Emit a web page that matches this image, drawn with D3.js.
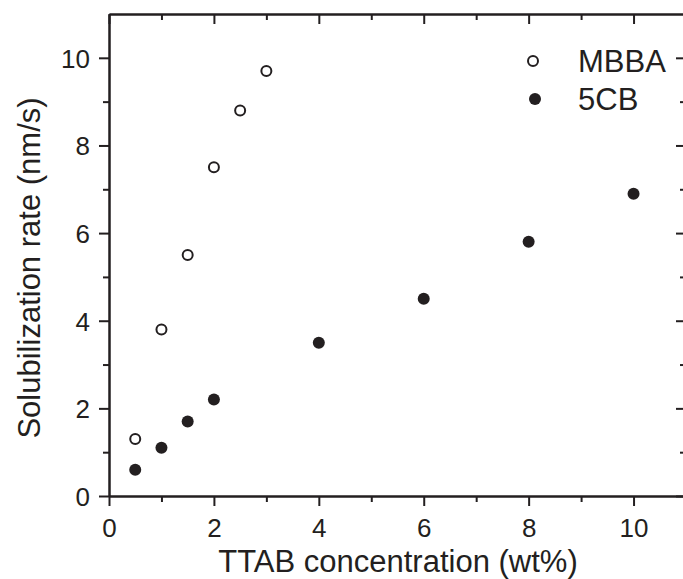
<!DOCTYPE html>
<html><head><meta charset="utf-8">
<script src="https://cdn.jsdelivr.net/npm/d3@7"></script>
<style>body{margin:0;background:#fff}svg{display:block}text{font-family:"Liberation Sans",Arial,sans-serif;fill:#231f20}</style>
</head><body>
<script>
const mbbaX = [0.5, 1, 1.5, 2, 2.5, 3];
const mbbaY = [1.3, 3.8, 5.5, 7.5, 8.8, 9.7];
const cbX = [0.5, 1, 1.5, 2, 4, 6, 8, 10];
const cbY = [0.6, 1.1, 1.7, 2.2, 3.5, 4.5, 5.8, 6.9];
const xMajor = [0, 2, 4, 6, 8, 10];
const yMajor = [0, 2, 4, 6, 8, 10];
const seriesNames = ["MBBA", "5CB"];

const W = 683, H = 579;
const m = {l: 109, t: 14, r: 686, b: 496};
const col = "#231f20";
const svg = d3.select("body").append("svg").attr("width", W).attr("height", H);
const x = d3.scaleLinear().domain([0, 11]).range([m.l, m.r]);
const y = d3.scaleLinear().domain([0, 11]).range([m.b, m.t]);
const xMinor = d3.range(1, 11, 2);
const yMinor = d3.range(1, 11, 2);

function styleAxis(g) {
  g.select(".domain").attr("stroke", col).attr("stroke-width", 2);
  g.selectAll(".tick line").attr("stroke", col).attr("stroke-width", 2);
  g.selectAll(".tick text").attr("font-size", 26).style("fill", col);
}
// bottom
const bx = svg.append("g").attr("transform", `translate(0,${m.b})`)
  .call(d3.axisBottom(x).tickValues(xMajor).tickSize(10).tickSizeOuter(0).tickFormat(d3.format("d")))
  .call(styleAxis);
bx.selectAll(".tick text").attr("y", 41).attr("dy", null);
svg.append("g").attr("transform", `translate(0,${m.b})`)
  .call(d3.axisBottom(x).tickValues(xMinor).tickSize(6).tickSizeOuter(0).tickFormat(""))
  .call(styleAxis);
// top (inward)
svg.append("g").attr("transform", `translate(0,${m.t})`)
  .call(d3.axisBottom(x).tickValues(xMajor).tickSize(10).tickSizeOuter(0).tickFormat(""))
  .call(styleAxis);
svg.append("g").attr("transform", `translate(0,${m.t})`)
  .call(d3.axisBottom(x).tickValues(xMinor).tickSize(6).tickSizeOuter(0).tickFormat(""))
  .call(styleAxis);
// left
const ly = svg.append("g").attr("transform", `translate(${m.l},0)`)
  .call(d3.axisLeft(y).tickValues(yMajor).tickSize(10).tickSizeOuter(0).tickPadding(9).tickFormat(d3.format("d")))
  .call(styleAxis);
ly.selectAll(".tick text").attr("dy", "0.36em");
svg.append("g").attr("transform", `translate(${m.l},0)`)
  .call(d3.axisLeft(y).tickValues(yMinor).tickSize(6).tickSizeOuter(0).tickFormat(""))
  .call(styleAxis);
// right (inward)
svg.append("g").attr("transform", `translate(${m.r},0)`)
  .call(d3.axisLeft(y).tickValues(yMajor).tickSize(10).tickSizeOuter(0).tickFormat(""))
  .call(styleAxis);
svg.append("g").attr("transform", `translate(${m.r},0)`)
  .call(d3.axisLeft(y).tickValues(yMinor).tickSize(6).tickSizeOuter(0).tickFormat(""))
  .call(styleAxis);

// data
const mbba = mbbaX.map((v, i) => [v, mbbaY[i]]);
const cb = cbX.map((v, i) => [v, cbY[i]]);
svg.append("g").selectAll("circle").data(mbba).join("circle")
  .attr("cx", d => x(d[0])).attr("cy", d => y(d[1])).attr("r", 5)
  .attr("fill", "#fff").attr("stroke", col).attr("stroke-width", 2);
svg.append("g").selectAll("circle").data(cb).join("circle")
  .attr("cx", d => x(d[0])).attr("cy", d => y(d[1])).attr("r", 6)
  .attr("fill", col);

// legend
const lg = svg.append("g");
lg.append("circle").attr("cx", 533).attr("cy", 61).attr("r", 5)
  .attr("fill", "#fff").attr("stroke", col).attr("stroke-width", 2);
lg.append("text").attr("x", 578).attr("y", 72).attr("font-size", 31).text(seriesNames[0]);
lg.append("circle").attr("cx", 535).attr("cy", 99).attr("r", 6).attr("fill", col);
lg.append("text").attr("x", 578).attr("y", 110).attr("font-size", 31).text(seriesNames[1]);

// titles
svg.append("text").attr("x", 398).attr("y", 572).attr("text-anchor", "middle")
  .attr("font-size", 31).text("TTAB concentration (wt%)");
svg.append("text").attr("transform", "translate(40,268) rotate(-90)").attr("text-anchor", "middle")
  .attr("font-size", 31).text("Solubilization rate (nm/s)");
</script>
</body></html>
